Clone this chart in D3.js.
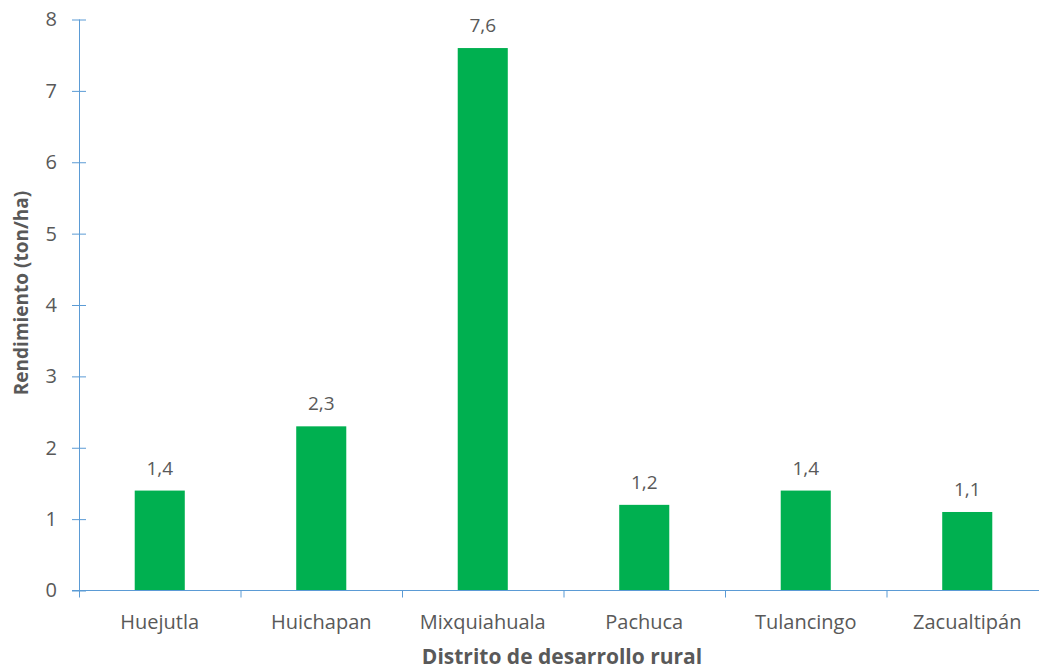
<!DOCTYPE html>
<html>
<head>
<meta charset="utf-8">
<script src="https://cdn.jsdelivr.net/npm/d3@7"></script>
<style>
  html, body { margin: 0; padding: 0; background: #fff; }
  svg { display: block; }
  text { font-family: "Open Sans", "Noto Sans", sans-serif; fill: #595959; }
</style>
</head>
<body>
<svg id="chart" width="1039" height="671"></svg>
<script>
// Rendimiento por distrito de desarrollo rural
const districts = ["Huejutla", "Huichapan", "Mixquiahuala", "Pachuca", "Tulancingo", "Zacualtipán"];
const yieldValues = [1.4, 2.3, 7.6, 1.2, 1.4, 1.1];
const yTicks = [0, 1, 2, 3, 4, 5, 6, 7, 8];

const svg = d3.select("#chart");
const plotLeft = 79, plotRight = 1048, plotTop = 19.5, plotBottom = 590.5;

const x = d3.scaleBand().domain(districts).range([plotLeft, plotRight]).paddingInner(0.69).paddingOuter(0.345);
const y = d3.scaleLinear().domain([0, 8]).range([plotBottom, plotTop]);
const axisColor = "#5B9BD5";

// bars
svg.append("g").selectAll("rect")
  .data(districts)
  .join("rect")
  .attr("x", d => x(d))
  .attr("width", x.bandwidth())
  .attr("y", (d, i) => y(yieldValues[i]))
  .attr("height", (d, i) => y(0) - y(yieldValues[i]))
  .attr("fill", "#00B050");

// value labels
svg.append("g").selectAll("text")
  .data(districts)
  .join("text")
  .attr("x", d => x(d) + x.bandwidth() / 2)
  .attr("y", (d, i) => y(yieldValues[i]) - 16)
  .attr("text-anchor", "middle")
  .attr("font-size", 19)
  .text((d, i) => d3.format(".1f")(yieldValues[i]).replace(".", ","));

// y axis
const yAxis = svg.append("g").attr("transform", `translate(${plotLeft},0)`)
  .call(d3.axisLeft(y).tickValues(yTicks).tickSize(7).tickFormat(d3.format("d")));
yAxis.selectAll(".tick line").attr("x2", -7).attr("x1", 7).attr("stroke", axisColor);
yAxis.select(".domain").attr("stroke", axisColor).attr("d", `M0.5,${plotTop}V${plotBottom}`);
yAxis.selectAll(".tick text").attr("x", -22).attr("font-size", 20).style("fill", "#595959").attr("font-family", null);

// x axis with ticks at category boundaries
const xAxis = svg.append("g").attr("transform", `translate(0,${plotBottom})`);
xAxis.append("line").attr("x1", plotLeft - 7).attr("x2", plotRight).attr("stroke", axisColor);
const boundaries = districts.map(d => x(d) - x.step() * x.paddingInner() / 2);
boundaries.push(plotRight);
xAxis.selectAll(".bt").data(boundaries).join("line")
  .attr("x1", d => d + 0.5).attr("x2", d => d + 0.5).attr("y1", 0).attr("y2", 7)
  .attr("stroke", axisColor);
xAxis.selectAll(".lbl").data(districts).join("text")
  .attr("x", d => x(d) + x.bandwidth() / 2)
  .attr("y", 38)
  .attr("text-anchor", "middle")
  .attr("font-size", 20)
  .text(d => d);

// axis titles
svg.append("text")
  .attr("x", 562).attr("y", 664)
  .attr("text-anchor", "middle")
  .attr("font-size", 21).attr("font-weight", "bold")
  .text("Distrito de desarrollo rural");
svg.append("text")
  .attr("transform", "translate(28,293) rotate(-90)")
  .attr("text-anchor", "middle")
  .attr("font-size", 19).attr("font-weight", "bold")
  .text("Rendimiento (ton/ha)");
</script>
</body>
</html>
